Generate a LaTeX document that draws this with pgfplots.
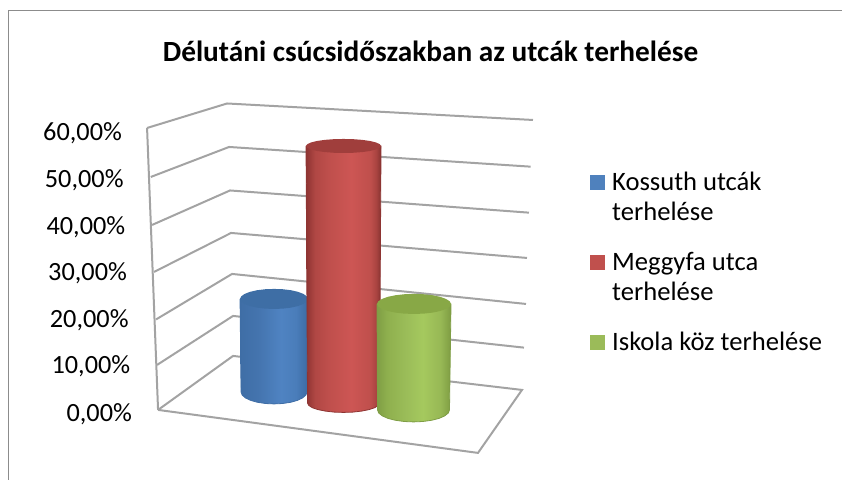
\documentclass[border=0pt]{standalone}
\usepackage{fontspec}
\setmainfont{Carlito}
\usepackage{pgfplots}
\pgfplotsset{compat=1.18}
\definecolor{gridc}{HTML}{A3A3A3}
\definecolor{framec}{HTML}{8C8C8C}
\definecolor{bA}{HTML}{3F6EA6}\definecolor{bB}{HTML}{4474AE}\definecolor{bC}{HTML}{4F83C2}\definecolor{bD}{HTML}{4A7DBA}\definecolor{bE}{HTML}{3C6BA3}
\definecolor{rA}{HTML}{8E3432}\definecolor{rB}{HTML}{B04744}\definecolor{rC}{HTML}{BF4F4C}\definecolor{rD}{HTML}{CD5654}\definecolor{rE}{HTML}{A84340}\definecolor{rF}{HTML}{853230}
\definecolor{gA}{HTML}{7F9E45}\definecolor{gB}{HTML}{8FB04E}\definecolor{gC}{HTML}{9BBD59}\definecolor{gD}{HTML}{A5C95E}\definecolor{gE}{HTML}{97B855}\definecolor{gF}{HTML}{7E9C42}
\definecolor{btop}{HTML}{3E6EA5}\definecolor{rtop}{HTML}{A03E3C}\definecolor{gtop}{HTML}{88A846}
\definecolor{lb}{HTML}{4F81BD}\definecolor{lr}{HTML}{C0504D}\definecolor{lg}{HTML}{9BBB59}
\pgfdeclarehorizontalshading{cylblue}{100bp}{color(0bp)=(bA);color(25bp)=(bA);color(38bp)=(bB);color(55bp)=(bC);color(66bp)=(bD);color(75bp)=(bE);color(100bp)=(bE)}
\pgfdeclarehorizontalshading{cylred}{100bp}{color(0bp)=(rA);color(25bp)=(rA);color(31bp)=(rB);color(40bp)=(rC);color(55bp)=(rD);color(68bp)=(rC);color(72bp)=(rE);color(75bp)=(rF);color(100bp)=(rF)}
\pgfdeclarehorizontalshading{cylgreen}{100bp}{color(0bp)=(gA);color(25bp)=(gA);color(32bp)=(gB);color(45bp)=(gC);color(56bp)=(gD);color(68bp)=(gE);color(75bp)=(gF);color(100bp)=(gF)}
\begin{document}
\begin{tikzpicture}
\begin{axis}[
  scale only axis, width=842pt, height=480pt,
  xmin=0, xmax=842, ymin=0, ymax=480, y dir=reverse,
  axis line style={draw=none}, xtick=\empty,
  ytick={130,177,224,270,317,363,411},
  yticklabels={{60,00\%},{50,00\%},{40,00\%},{30,00\%},{20,00\%},{10,00\%},{0,00\%}},
  major tick length=0pt, tick label style={font=\fontsize{26.3}{31}\selectfont, text=black},
  yticklabel style={anchor=east, inner sep=0pt, xshift={122pt+1.67pt*\ticknum}, yshift=-3pt},
  title={\fontsize{29.3}{34}\selectfont\bfseries Délutáni csúcsidőszakban az utcák terhelése},
  title style={at={(430.5/842,1-57/480)}, anchor=center, inner sep=0pt},
  legend style={draw=none, fill=none, at={(590/842,1-172/480)}, anchor=north west, inner sep=0pt,
    row sep=60pt, nodes={inner sep=0pt}, font=\fontsize{26.6}{30}\selectfont},
  legend cell align=left,
  legend image code/.code={\fill[draw=none,#1] (0pt,-8pt) rectangle (15pt,7pt);},
]
% frame
\addplot[forget plot, framec, line width=1.8pt] coordinates {(8.5,480)(8.5,10.5)(842,10.5)};
% gridlines
\addplot[forget plot, gridc, line width=2pt] coordinates {(147,128)(227,103.5)(533,120)};
\addplot[forget plot, gridc, line width=2pt] coordinates {(150.7,177)(229,147)(530.7,166.7)};
\addplot[forget plot, gridc, line width=2pt] coordinates {(152,225)(230,190.5)(529,212.7)};
\addplot[forget plot, gridc, line width=2pt] coordinates {(154,272)(231,233)(527,258)};
\addplot[forget plot, gridc, line width=2pt] coordinates {(156,319.5)(232,274)(526,304)};
\addplot[forget plot, gridc, line width=2pt] coordinates {(157,365)(233,316)(524,347.7)};
\addplot[forget plot, gridc, line width=2pt] coordinates {(147,128)(158,410)};
\addplot[forget plot, gridc, line width=2pt] coordinates {(158,410)(233,356)(522,390)(478,453)(158,410)};
% Kossuth
\addplot[forget plot, draw=bA, line width=0.8pt, shading=cylblue] coordinates {(240,299)(308,299)(307,392)(305.9,395.1)(302.6,398)(297.3,400.5)(290.5,402.4)(282.5,403.6)(274,404)(265.5,403.6)(257.5,402.4)(250.7,400.5)(245.4,398)(242.1,395.1)(241,392)(240,299)};
\addplot[forget plot, draw=none, fill=btop] coordinates {(308,299)(306.8,301.6)(303.4,304)(298,306.1)(291,307.7)(282.8,308.7)(274,309)(265.2,308.7)(257,307.7)(250,306.1)(244.6,304)(241.2,301.6)(240,299)(241.2,296.4)(244.6,294)(250,291.9)(257,290.3)(265.2,289.3)(274,289)(282.8,289.3)(291,290.3)(298,291.9)(303.4,294)(306.8,296.4)};
% Meggyfa
\addplot[forget plot, draw=rA, line width=0.8pt, shading=cylred] coordinates {(306,146)(381,146)(379.5,403)(378.3,405.5)(374.7,407.8)(369,409.7)(361.5,411.2)(352.8,412.2)(343.5,412.5)(334.2,412.2)(325.5,411.2)(318,409.7)(312.3,407.8)(308.7,405.5)(307.5,403)(306,146)};
\addplot[forget plot, draw=none, fill=rtop] coordinates {(381,146)(379.7,147.8)(376,149.5)(370,151)(362.3,152.1)(353.2,152.8)(343.5,153)(333.8,152.8)(324.7,152.1)(317,151)(311,149.5)(307.3,147.8)(306,146)(307.3,144.2)(311,142.5)(317,141)(324.7,139.9)(333.8,139.2)(343.5,139)(353.2,139.2)(362.3,139.9)(370,141)(376,142.5)(379.7,144.2)};
% Iskola
\addplot[forget plot, draw=gA, line width=0.8pt, shading=cylgreen] coordinates {(377,304)(451,304)(449.5,410)(448.3,413.1)(444.7,416)(439,418.5)(431.5,420.4)(422.8,421.6)(413.5,422)(404.2,421.6)(395.5,420.4)(388,418.5)(382.3,416)(378.7,413.1)(377.5,410)(377,304)};
\addplot[forget plot, draw=none, fill=gtop] coordinates {(451,304)(449.7,306.6)(446,309)(440.2,311.1)(432.5,312.7)(423.6,313.7)(414,314)(404.4,313.7)(395.5,312.7)(387.8,311.1)(382,309)(378.3,306.6)(377,304)(378.3,301.4)(382,299)(387.8,296.9)(395.5,295.3)(404.4,294.3)(414,294)(423.6,294.3)(432.5,295.3)(440.2,296.9)(446,299)(449.7,301.4)};
\addlegendimage{fill=lb}
\addlegendentry{\hspace{7pt}\parbox[t]{225pt}{\baselineskip=30pt Kossuth utcák\\terhelése}}
\addlegendimage{fill=lr}
\addlegendentry{\hspace{7pt}\parbox[t]{225pt}{\baselineskip=30pt Meggyfa utca\\terhelése}}
\addlegendimage{fill=lg}
\addlegendentry{\hspace{7pt}\parbox[t]{225pt}{\baselineskip=30pt Iskola köz terhelése}}
\end{axis}
\end{tikzpicture}
\end{document}
